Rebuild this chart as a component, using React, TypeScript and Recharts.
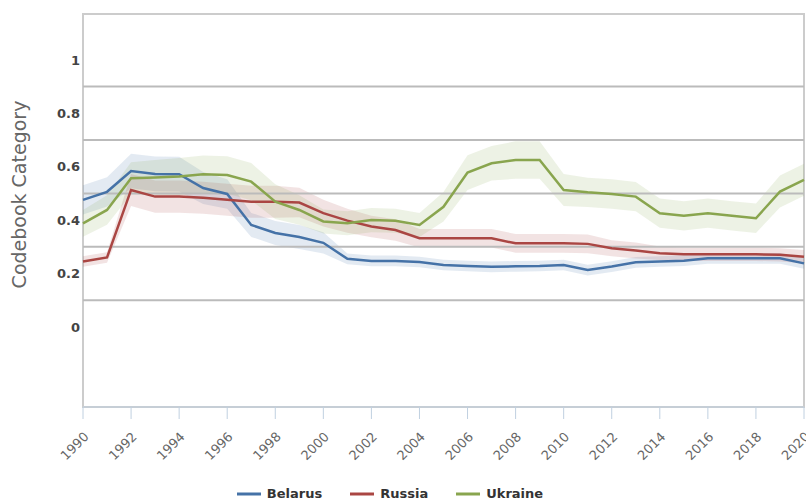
import {
  Area,
  ComposedChart,
  Legend,
  Line,
  ReferenceArea,
  ReferenceLine,
  XAxis,
  YAxis,
} from "recharts";

const years = [
  1990, 1991, 1992, 1993, 1994, 1995, 1996, 1997, 1998, 1999, 2000, 2001, 2002, 2003, 2004, 2005,
  2006, 2007, 2008, 2009, 2010, 2011, 2012, 2013, 2014, 2015, 2016, 2017, 2018, 2019, 2020,
];

const belarus = [
  0.476, 0.506, 0.584, 0.573, 0.572, 0.52, 0.498, 0.382, 0.352, 0.337, 0.315, 0.255, 0.247, 0.247,
  0.243, 0.232, 0.228, 0.225, 0.227, 0.228, 0.232, 0.213, 0.226, 0.242, 0.245, 0.248, 0.257, 0.257,
  0.257, 0.257, 0.238,
];
const russia = [
  0.245, 0.26, 0.513, 0.488, 0.488, 0.484, 0.476, 0.469, 0.469, 0.466, 0.426, 0.398, 0.376, 0.363,
  0.332, 0.332, 0.332, 0.332, 0.313, 0.313, 0.313, 0.311, 0.295, 0.286, 0.276, 0.272, 0.272, 0.272,
  0.272, 0.27, 0.263,
];
const ukraine = [
  0.388, 0.438, 0.557, 0.56, 0.563, 0.572, 0.569, 0.544, 0.469, 0.438, 0.395, 0.388, 0.4, 0.398,
  0.382, 0.45, 0.578, 0.613, 0.625, 0.625, 0.513, 0.504, 0.498, 0.488, 0.426, 0.416, 0.426, 0.416,
  0.407, 0.507, 0.551,
];

// half width of the shaded interval around each line
const belarusCI = [
  0.055, 0.055, 0.065, 0.065, 0.065, 0.06, 0.055, 0.045, 0.045, 0.045, 0.04, 0.02, 0.02, 0.02, 0.02,
  0.02, 0.02, 0.02, 0.02, 0.02, 0.02, 0.02, 0.02, 0.02, 0.02, 0.02, 0.02, 0.02, 0.02, 0.02, 0.02,
];
const russiaCI = [
  0.02, 0.02, 0.06, 0.06, 0.06, 0.06, 0.06, 0.06, 0.06, 0.055, 0.05, 0.045, 0.04, 0.04, 0.035, 0.035,
  0.035, 0.035, 0.035, 0.035, 0.035, 0.035, 0.03, 0.03, 0.025, 0.025, 0.025, 0.025, 0.025, 0.025,
  0.025,
];
const ukraineCI = [
  0.05, 0.055, 0.06, 0.065, 0.07, 0.07, 0.07, 0.07, 0.065, 0.055, 0.045, 0.045, 0.045, 0.045, 0.045,
  0.055, 0.065, 0.065, 0.07, 0.07, 0.06, 0.055, 0.055, 0.055, 0.055, 0.055, 0.055, 0.055, 0.055,
  0.06, 0.06,
];

const xTicks = [
  1990, 1992, 1994, 1996, 1998, 2000, 2002, 2004, 2006, 2008, 2010, 2012, 2014, 2016, 2018, 2020,
];
const yTicks = [0, 0.2, 0.4, 0.6, 0.8, 1];
const gridValues = [0.1, 0.3, 0.5, 0.7, 0.9];

const series = [
  { key: "belarus", name: "Belarus", color: "#4572A7", values: belarus, ci: belarusCI },
  { key: "russia", name: "Russia", color: "#AA4643", values: russia, ci: russiaCI },
  { key: "ukraine", name: "Ukraine", color: "#89A54E", values: ukraine, ci: ukraineCI },
];

const rows = years.map((year, i) => {
  const row: Record<string, number | number[]> = { year };
  series.forEach((s) => {
    row[s.key] = s.values[i];
    row[s.key + "Band"] = [s.values[i] - s.ci[i], s.values[i] + s.ci[i]];
  });
  return row;
});

const Y_MIN = -0.3;
const Y_MAX = 1.172;

function LegendRow() {
  return (
    <div style={{ display: "flex", justifyContent: "center", paddingTop: 9, paddingLeft: 4 }}>
      {series.map((s) => (
        <span
          key={s.key}
          style={{ display: "inline-flex", alignItems: "center", marginRight: 28 }}
        >
          <svg width={24} height={4}>
            <line x1={0} y1={2} x2={24} y2={2} stroke={s.color} strokeWidth={3} />
          </svg>
          <span style={{ marginLeft: 6, fontWeight: "bold", color: "#333", fontSize: 13 }}>
            {s.name}
          </span>
        </span>
      ))}
    </div>
  );
}

function YTitle({ viewBox }: any) {
  const x = viewBox.x + 19;
  const y = viewBox.y + viewBox.height / 2 - 16;
  return (
    <text
      x={x}
      y={y}
      transform={`rotate(-90, ${x}, ${y})`}
      textAnchor="middle"
      dominantBaseline="central"
      fill="#666"
      fontSize={19}
    >
      Codebook Category
    </text>
  );
}

export default function App() {
  return (
    <div style={{ position: "absolute", left: 0, top: 0, fontFamily: "DejaVu Sans" }}>
      <ComposedChart
        width={806}
        height={501}
        data={rows}
        margin={{ top: 14, right: 2, bottom: 0, left: 0 }}
      >
        <XAxis
          dataKey="year"
          type="number"
          domain={[1990, 2020]}
          ticks={xTicks}
          interval={0}
          height={70}
          angle={-45}
          textAnchor="end"
          tickSize={12}
          tickMargin={12}
          stroke="#C0D0E0"
          tick={{ fill: "#666", fontSize: 13 }}
        />
        <YAxis
          type="number"
          domain={[Y_MIN, Y_MAX]}
          ticks={yTicks}
          interval={0}
          width={83}
          axisLine={false}
          tickLine={false}
          tickSize={0}
          tickMargin={3}
          tick={{ fill: "#444", fontSize: 13, fontWeight: "bold" }}
          label={<YTitle />}
        />
        {gridValues.map((v) => (
          <ReferenceLine key={v} y={v} stroke="#bbb" strokeWidth={2} />
        ))}
        <ReferenceArea
          x1={1990}
          x2={2020}
          y1={Y_MIN}
          y2={Y_MAX}
          fill="none"
          stroke="#ccc"
          strokeWidth={2}
        />
        {series.map((s) => (
          <Area
            key={s.key + "Band"}
            dataKey={s.key + "Band"}
            fill={s.color}
            fillOpacity={0.15}
            stroke="none"
            legendType="none"
            isAnimationActive={false}
          />
        ))}
        {series.map((s) => (
          <Line
            key={s.key}
            dataKey={s.key}
            name={s.name}
            stroke={s.color}
            strokeWidth={2.5}
            dot={false}
            legendType="plainline"
            isAnimationActive={false}
          />
        ))}
        <Legend verticalAlign="bottom" height={24} content={<LegendRow />} />
      </ComposedChart>
    </div>
  );
}
